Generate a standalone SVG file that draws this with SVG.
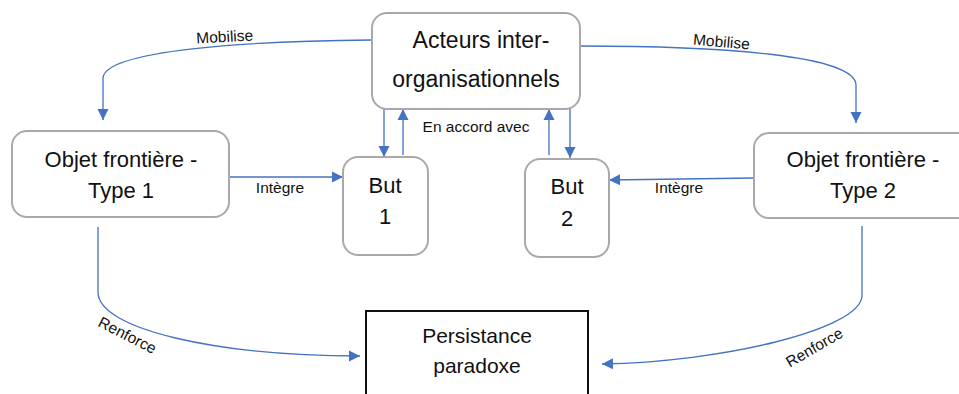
<svg xmlns="http://www.w3.org/2000/svg" width="959" height="394" viewBox="0 0 959 394">
<defs>
<marker id="ah" markerUnits="userSpaceOnUse" markerWidth="12" markerHeight="12" viewBox="0 0 12 12" refX="11" refY="6" orient="auto">
<path d="M0,0.5 L11,6 L0,11.5 Z" fill="#4472C4"/>
</marker>
<style>
.box{fill:#fff;stroke:#A9A9A9;stroke-width:2}
.pbox{fill:#fff;stroke:#111;stroke-width:2}
.t{font-family:"Liberation Sans",Arial,sans-serif;font-size:22px;fill:#111;text-anchor:middle}
.l{font-family:"Liberation Sans",Arial,sans-serif;font-size:15.5px;fill:#111;text-anchor:middle}
.c{fill:none;stroke:#4472C4;stroke-width:1.3;marker-end:url(#ah)}
</style>
</defs>
<rect width="959" height="394" fill="#fff"/>
<g id="connectors">
<path class="c" d="M372,40 C250,41 105,50 103,78 L103,120"/>
<path class="c" d="M580,46 C720,46 855,55 856,85 L856,123"/>
<path class="c" d="M384,107 L384,157"/>
<path class="c" d="M403,155 L403,109"/>
<path class="c" d="M549,155 L549,109"/>
<path class="c" d="M570,105 L570,158"/>
<path class="c" d="M229,177 L343,177"/>
<path class="c" d="M754,178 L609,180"/>
<path class="c" d="M98,227 L98,292 C98,330 220,356 360,356"/>
<path class="c" d="M862,226 L862,296 C860,330 720,362 602,364"/>
<text class="l" transform="translate(225,42) rotate(-3)">Mobilise</text>
<text class="l" transform="translate(721,47) rotate(5)">Mobilise</text>
<text class="l" x="476" y="132">En accord avec</text>
<text class="l" x="280" y="193">Intègre</text>
<text class="l" x="679" y="193">Intègre</text>
<text class="l" transform="translate(125,340) rotate(27)">Renforce</text>
<text class="l" transform="translate(817,352) rotate(-30)">Renforce</text>
</g>
<g id="acteurs">
<rect class="box" x="372" y="13" width="208" height="96" rx="15"/>
<text class="t" x="481" y="48" style="font-size:23px">Acteurs inter-</text>
<text class="t" x="476" y="87" style="font-size:23px">organisationnels</text>
</g>
<g id="objet1">
<rect class="box" x="12" y="131" width="217" height="86" rx="15"/>
<text class="t" x="121" y="167">Objet frontière -</text>
<text class="t" x="121" y="198">Type 1</text>
</g>
<g id="but1">
<rect class="box" x="343" y="157" width="85" height="98" rx="15"/>
<text class="t" x="385" y="193">But</text>
<text class="t" x="385" y="224">1</text>
</g>
<g id="but2">
<rect class="box" x="525" y="159" width="84" height="98" rx="15"/>
<text class="t" x="567" y="194">But</text>
<text class="t" x="567" y="226">2</text>
</g>
<g id="objet2">
<rect class="box" x="754" y="133" width="220" height="85" rx="15"/>
<text class="t" x="863" y="167">Objet frontière -</text>
<text class="t" x="863" y="198">Type 2</text>
</g>
<g id="persistance">
<rect class="pbox" x="366" y="311" width="222" height="100"/>
<text class="t" x="477" y="343" style="font-size:21px">Persistance</text>
<text class="t" x="477" y="373" style="font-size:21px">paradoxe</text>
</g>
</svg>
